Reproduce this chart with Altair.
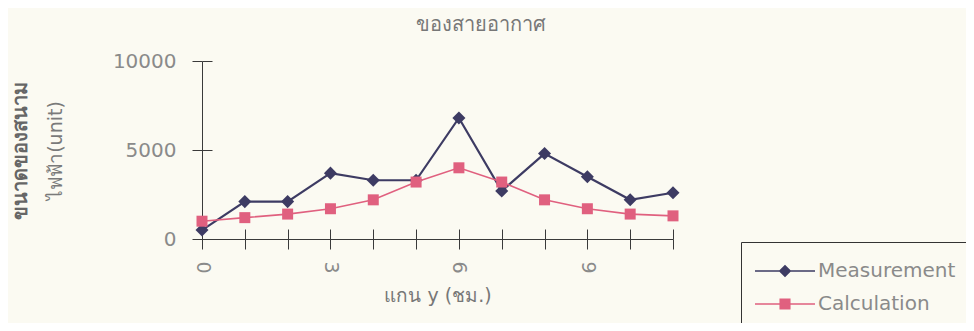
import altair as alt
import pandas as pd

hours = list(range(12))
measurement = [500, 2100, 2100, 3700, 3300, 3300, 6800, 2700, 4800, 3500, 2200, 2600]
calculation = [1000, 1200, 1400, 1700, 2200, 3200, 4000, 3200, 2200, 1700, 1400, 1300]
series_names = ["Measurement", "Calculation"]
series_colors = ["#3d3b63", "#e0607f"]
y_ticks = [0, 5000, 10000]
x_ticks = list(range(12))

rows = []
for h, m, c in zip(hours, measurement, calculation):
    rows.append({"hour": h, "value": m, "series": "Measurement"})
    rows.append({"hour": h, "value": c, "series": "Calculation"})
df = pd.DataFrame(rows)

FONT = "DejaVu Sans"
LABEL_COLOR = "#8a8a8a"
AXIS_COLOR = "#3a3a3a"

xscale = alt.Scale(domain=[0, 11], nice=False, zero=False)
yscale = alt.Scale(domain=[0, 10000], nice=False)

x_main = alt.X(
    "hour:Q", scale=xscale,
    axis=alt.Axis(
        values=x_ticks, labelExpr="datum.value % 3 == 0 ? datum.label : ''",
        labelAngle=90, labelFontSize=19, labelColor=LABEL_COLOR, labelFont=FONT,
        labelPadding=12, tickSize=10, tickColor=AXIS_COLOR, domainColor=AXIS_COLOR,
        grid=False, title="แกน y (ชม.)", titleFontSize=19, titleFontWeight="normal",
        titleColor="#777777", titleFont=FONT, titleY=56, titleBaseline="middle",
    ),
)
y_main = alt.Y(
    "value:Q", scale=yscale,
    axis=alt.Axis(
        values=y_ticks, format="d", labelFontSize=20, labelColor=LABEL_COLOR, labelFont=FONT,
        labelPadding=16, tickSize=10, tickColor=AXIS_COLOR, domainColor=AXIS_COLOR,
        grid=False, title="ไฟฟ้า(unit)", titleFontSize=19, titleFontWeight="normal",
        titleColor="#7a7a7a", titleFont=FONT, titleAngle=270, titleX=-147, titleY=89,
        titleAlign="center", titleBaseline="middle",
    ),
)

base = alt.Chart(df)

meas = base.transform_filter(alt.datum.series == "Measurement")
calc = base.transform_filter(alt.datum.series == "Calculation")

l1 = meas.mark_line(strokeWidth=2.2, color=series_colors[0]).encode(x=x_main, y=y_main)
p1 = meas.mark_point(filled=True, opacity=1, shape="diamond", size=170,
                     color=series_colors[0]).encode(x="hour:Q", y="value:Q")
l2 = calc.mark_line(strokeWidth=1.6, color=series_colors[1]).encode(x="hour:Q", y="value:Q")
p2 = calc.mark_point(filled=True, opacity=1, shape="square", size=121,
                     color=series_colors[1]).encode(x="hour:Q", y="value:Q")

main = alt.layer(l1, p1, l2, p2)

meas_path = "M-1,-0.05H3V0.05H-1Z M1,-0.42L1.42,0L1,0.42L0.58,0Z"
calc_path = "M-1,-0.05H3V0.05H-1Z M0.63,-0.37H1.37V0.37H0.63Z"

# legend-only layer: no rows drawn, carries the legend and the inner half of the tick marks
legend_layer = base.transform_filter(alt.datum.hour < 0).mark_point(filled=True, opacity=1).encode(
    x=alt.X("hour:Q", scale=xscale, axis=alt.Axis(
        orient="bottom", offset=-10, values=x_ticks, labels=False, domain=False,
        tickSize=10, tickColor=AXIS_COLOR, grid=False, title=None)),
    y=alt.Y("value:Q", scale=yscale, axis=alt.Axis(
        orient="left", offset=-10, values=y_ticks, labels=False, domain=False,
        tickSize=10, tickColor=AXIS_COLOR, grid=False,
        title="ขนาดของสนาม", titleFontSize=20, titleFontWeight="bold",
        titleColor="#666666", titleFont=FONT, titleAngle=270, titleX=-192, titleY=89,
        titleAlign="center", titleBaseline="middle")),
    color=alt.Color("series:N", scale=alt.Scale(domain=series_names, range=series_colors),
                    legend=alt.Legend(title=None)),
    shape=alt.Shape("series:N", scale=alt.Scale(domain=series_names, range=[meas_path, calc_path]),
                    legend=alt.Legend(title=None)),
)

chart = alt.layer(main, legend_layer).resolve_axis(
    x="independent", y="independent"
).properties(
    width=471, height=178,
    padding={"left": 194, "top": 53, "right": 293, "bottom": 84},
    autosize=alt.AutoSizeParams(type="none"),
    background="#fbfaf2",
    title=alt.TitleParams("ของสายอากาศ", anchor="middle", dx=43, fontSize=20,
                          color="#777777", font=FONT, fontWeight="normal", offset=16),
).configure_view(stroke=None).configure_legend(
    orient="none", legendX=539, legendY=181,
    strokeColor="#333333", fillColor="#fbfaf2", padding=14,
    symbolSize=900, labelOffset=33, rowPadding=8,
    labelFontSize=20, labelColor="#8a8a8a", labelFont=FONT,
    symbolOpacity=1, symbolStrokeWidth=0,
)

chart.save("out.html", embed_options={"renderer": "svg", "actions": False})
